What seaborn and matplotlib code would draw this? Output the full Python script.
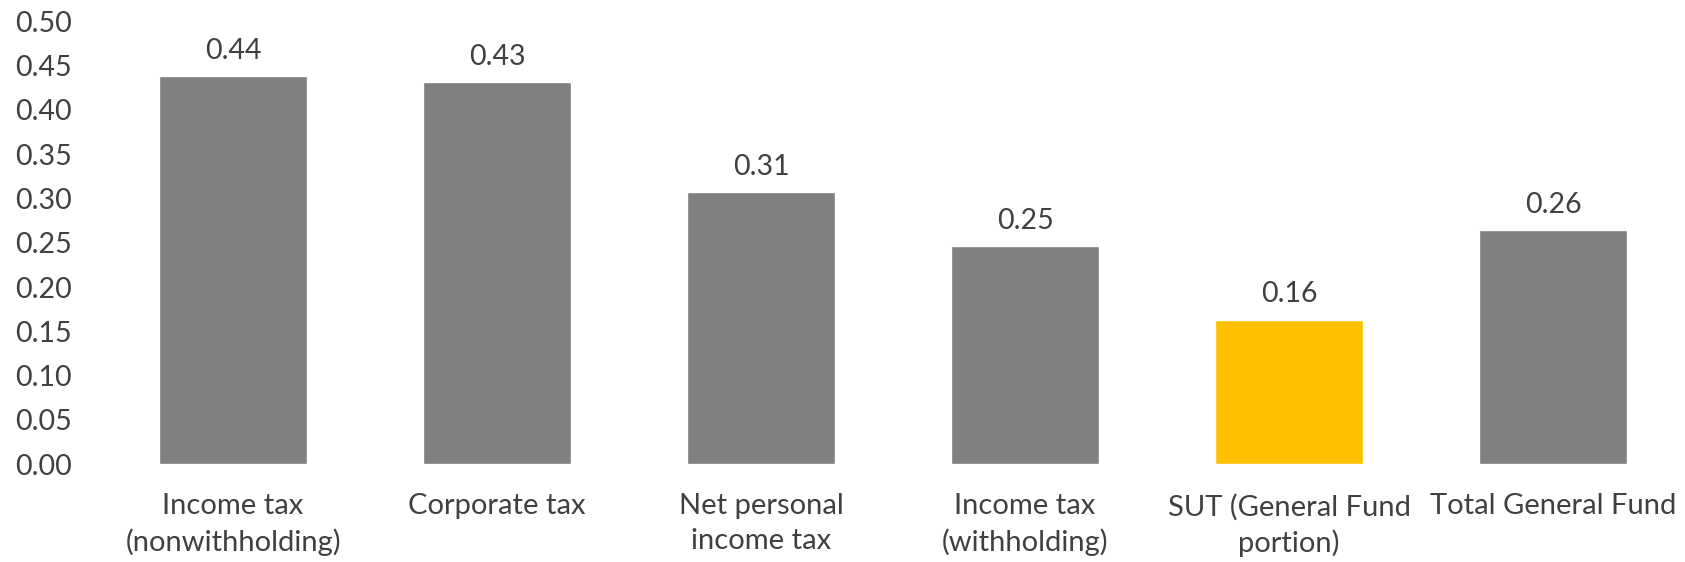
import matplotlib
matplotlib.use("Agg")
import matplotlib.pyplot as plt
import seaborn as sns
import pandas as pd

categories = ["Income tax\n(nonwithholding)", "Corporate tax", "Net personal\nincome tax",
              "Income tax\n(withholding)", "SUT (General Fund\nportion)", "Total General Fund"]
values = [0.438, 0.431, 0.307, 0.246, 0.163, 0.264]
colors = ["#808080", "#808080", "#808080", "#808080", "#FFC000", "#808080"]
yticks = [0.00, 0.05, 0.10, 0.15, 0.20, 0.25, 0.30, 0.35, 0.40, 0.45, 0.50]

sns.set_theme(style="white")
plt.rcParams['font.family'] = ['Lato', 'DejaVu Sans']
text_color = "#404040"

df = pd.DataFrame({"cat": categories, "val": values})
fig = plt.figure(figsize=(16.85, 5.62), dpi=100)
ax = fig.add_axes([0.06, 0.174, 0.94, 0.788])
sns.barplot(data=df, x="cat", y="val", hue="cat", palette=colors, legend=False,
            width=0.56, ax=ax, saturation=1)
for c in ax.containers:
    ax.bar_label(c, fmt="%.2f", padding=9, fontsize=20.5, color=text_color)
ax.set_ylim(0, 0.5)
ax.set_xlim(-0.5, 5.5)
ax.set_yticks(yticks)
ax.set_yticklabels([f"{t:.2f}" for t in yticks])
ax.tick_params(axis='y', labelsize=20.5, colors=text_color, length=0, pad=21)
ax.tick_params(axis='x', labelsize=21, colors=text_color, length=0, pad=21)
for lbl in ax.get_xticklabels():
    lbl.set_linespacing(1.4)
ax.set_xlabel("")
ax.set_ylabel("")
sns.despine(ax=ax, left=True, bottom=True)
fig.savefig("out.png", dpi=100)
